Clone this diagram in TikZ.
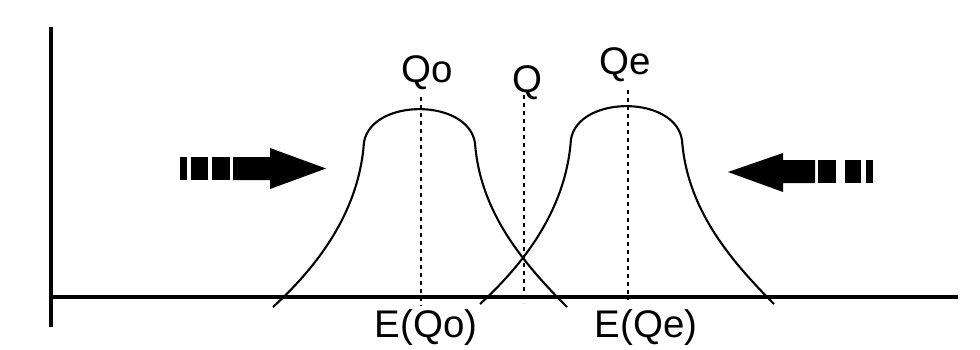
\documentclass[tikz,border=0pt]{standalone}
\usepackage{fontspec}
\setmainfont{Liberation Sans}
\begin{document}
\begin{tikzpicture}[x=1pt,y=-1pt,
  curve/.style={line width=2.1pt},
  axis/.style={line width=3.4pt},
  guide/.style={line width=2.4pt,dash pattern=on 4pt off 4pt},
  lbl/.style={anchor=base,inner sep=0pt,font=\fontsize{38.5}{40}\selectfont},
  blk/.style={fill=black}]
\useasboundingbox (0,0) rectangle (980,349);
% axes
\coordinate (yt) at (51,27);
\coordinate (yb) at (51,327);
\coordinate (xl) at (51,297);
\coordinate (xr) at (958,297);
\draw[axis] (yt) -- (yb);
\draw[axis] (xl) -- (xr);
% guides
\coordinate (g1t) at (421,97);  \coordinate (g1b) at (421,306);
\coordinate (g2t) at (524,95);  \coordinate (g2b) at (524,303);
\coordinate (g3t) at (628,90);  \coordinate (g3b) at (628,300);
\draw[guide] (g1t) -- (g1b);
\draw[guide] (g2t) -- (g2b);
\draw[guide] (g3t) -- (g3b);
% curves
\draw[curve] (273,307) .. controls (330,255) and (360,200) .. (364,142)
  .. controls (372,98) and (468,98) .. (475,143)
  .. controls (480,210) and (520,260) .. (567,307);
\begin{scope}[shift={(207,-3)}]
\draw[curve] (273,307) .. controls (330,255) and (360,200) .. (364,142)
  .. controls (372,98) and (468,98) .. (475,143)
  .. controls (480,210) and (520,260) .. (567,307);
\end{scope}
% labels
\node[lbl] (qo) at (427,82) {Qo};
\node[lbl] (q) at (527,92) {Q};
\node[lbl] (qe) at (625,74) {Qe};
\node[lbl] (eqo) at (426,337) {E(Qo)};
\node[lbl] (eqe) at (646,337) {E(Qe)};
% left striped arrow
\fill[blk] (180,157) rectangle (187,180);
\fill[blk] (191,157) rectangle (208,180);
\fill[blk] (212,157) rectangle (230,180);
\fill[blk] (233,157) -- (270,157) -- (270,148) -- (326,168.5) -- (270,189) -- (270,180) -- (233,180) -- cycle;
% right striped arrow
\fill[blk] (866,160) rectangle (873,183);
\fill[blk] (845,160) rectangle (861,183);
\fill[blk] (818,160) rectangle (836,183);
\fill[blk] (815,160) -- (783,160) -- (783,153) -- (728,172) -- (783,192) -- (783,183) -- (815,183) -- cycle;
\end{tikzpicture}
\end{document}
